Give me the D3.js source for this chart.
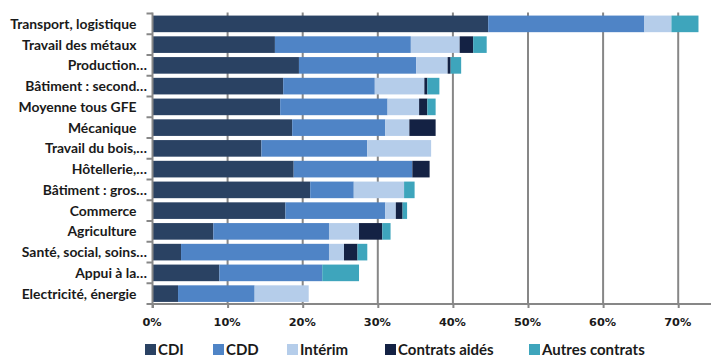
<!DOCTYPE html>
<html>
<head>
<meta charset="utf-8">
<script src="https://cdn.jsdelivr.net/npm/d3@7"></script>
<style>
  html, body { margin: 0; padding: 0; background: #fff; }
  svg { display: block; }
  text { font-family: Lato, "Open Sans", sans-serif; fill: #1a1a1a; }
</style>
</head>
<body>
<svg id="chart" width="711" height="358"></svg>
<script>
// Groupes formation-emploi (GFE), from top to bottom
const categories = [
  "Transport, logistique",
  "Travail des métaux",
  "Production…",
  "Bâtiment : second…",
  "Moyenne tous GFE",
  "Mécanique",
  "Travail du bois,…",
  "Hôtellerie,…",
  "Bâtiment : gros…",
  "Commerce",
  "Agriculture",
  "Santé, social, soins…",
  "Appui à la…",
  "Electricité, énergie"
];

// Share of each contract type (%), one value per category
const seriesNames = ["CDI", "CDD", "Intérim", "Contrats aidés", "Autres contrats"];
const cdi       = [44.7, 16.3, 19.5, 17.4, 17.0, 18.6, 14.5, 18.8, 21.0, 17.7,  8.1,  3.8,  8.9,  3.4];
const cdd       = [20.8, 18.1, 15.6, 12.2, 14.3, 12.4, 14.1, 15.8,  5.8, 13.3, 15.4, 19.7, 13.7, 10.2];
const interim   = [ 3.6,  6.5,  4.2,  6.6,  4.2,  3.2,  8.5,  0.0,  6.7,  1.4,  4.0,  2.0,  0.0,  7.2];
const aides     = [ 0.0,  1.8,  0.4,  0.4,  1.1,  3.5,  0.0,  2.3,  0.0,  0.9,  3.1,  1.8,  0.0,  0.0];
const autres    = [ 3.6,  1.8,  1.4,  1.6,  1.1,  0.0,  0.0,  0.0,  1.4,  0.6,  1.1,  1.3,  4.9,  0.0];

const tickValues = [0, 10, 20, 30, 40, 50, 60, 70];
const colors = ["#2a4263", "#4f84c6", "#b5cdea", "#142244", "#3ea5bc"];

// Rows built from the arrays above for d3.stack
const rows = categories.map((c, i) => ({
  cat: c,
  "CDI": cdi[i], "CDD": cdd[i], "Intérim": interim[i],
  "Contrats aidés": aides[i], "Autres contrats": autres[i]
}));

const svg = d3.select("#chart");
const plotLeft = 152.5, plotTop = 13.5, plotBottom = 304;

const x = d3.scaleLinear().domain([0, 80]).range([plotLeft, plotLeft + 600.8]);
const y = d3.scaleBand().domain(categories).range([plotTop, plotBottom]).paddingInner(0.2).paddingOuter(0.1);
const color = d3.scaleOrdinal().domain(seriesNames).range(colors);

const axisGrey = "#878787";

// Vertical gridlines
svg.append("g")
  .selectAll("line")
  .data(tickValues.slice(1))
  .join("line")
  .attr("x1", d => x(d)).attr("x2", d => x(d))
  .attr("y1", plotTop - 1).attr("y2", plotBottom)
  .attr("stroke", axisGrey).attr("stroke-width", 2);

// Stacked bars
const stacked = d3.stack().keys(seriesNames)(rows);
svg.append("g")
  .selectAll("g")
  .data(stacked)
  .join("g")
  .attr("fill", d => color(d.key))
  .selectAll("rect")
  .data(d => d)
  .join("rect")
  .attr("x", d => x(d[0]))
  .attr("width", d => Math.max(0, x(d[1]) - x(d[0])))
  .attr("y", d => y(d.data.cat))
  .attr("height", y.bandwidth());

// Left axis line with ticks between categories
const step = y.step();
const boundaries = d3.range(categories.length + 1).map(i => plotTop + i * step);
const yAxis = svg.append("g");
yAxis.append("line")
  .attr("x1", plotLeft).attr("x2", plotLeft)
  .attr("y1", plotTop - 1).attr("y2", plotBottom + 4)
  .attr("stroke", axisGrey).attr("stroke-width", 2);
yAxis.selectAll("line.tick")
  .data(boundaries)
  .join("line")
  .attr("class", "tick")
  .attr("x1", plotLeft - 6).attr("x2", plotLeft)
  .attr("y1", d => d).attr("y2", d => d)
  .attr("stroke", axisGrey).attr("stroke-width", 2);

// Category labels
svg.append("g")
  .selectAll("text")
  .data(categories)
  .join("text")
  .attr("x", d => d.endsWith("…") ? 147 : 136.5)
  .attr("y", d => y(d) + y.bandwidth() / 2)
  .attr("dy", "0.36em")
  .attr("text-anchor", "end")
  .attr("font-size", 13.9)
  .attr("font-weight", 700)
  .text(d => d);

// Bottom axis
const xAxis = d3.axisBottom(x)
  .tickValues(tickValues)
  .tickFormat(d => d + "%")
  .tickSize(4)
  .tickPadding(10);
const gx = svg.append("g")
  .attr("transform", `translate(0,${plotBottom})`)
  .call(xAxis);
gx.select(".domain")
  .attr("d", `M${plotLeft},0H711`)
  .attr("stroke", axisGrey).attr("stroke-width", 2);
gx.selectAll(".tick line").attr("stroke", axisGrey).attr("stroke-width", 2);
gx.selectAll(".tick text")
  .attr("font-size", 11.3)
  .attr("font-weight", 700)
  .attr("fill", "#1a1a1a")
  .attr("dx", -1)
  .style("font-family", "'DejaVu Sans', sans-serif");

// Legend
const legendX = [145, 213, 287, 385, 529];
const legend = svg.append("g")
  .selectAll("g")
  .data(seriesNames)
  .join("g")
  .attr("transform", (d, i) => `translate(${legendX[i]},349.5)`);
legend.append("rect")
  .attr("x", 0).attr("y", -5.5)
  .attr("width", 11).attr("height", 11)
  .attr("fill", d => color(d));
legend.append("text")
  .attr("x", 13).attr("y", 0).attr("dy", "0.36em")
  .attr("font-size", 15)
  .attr("font-weight", 700)
  .text(d => d);
</script>
</body>
</html>
